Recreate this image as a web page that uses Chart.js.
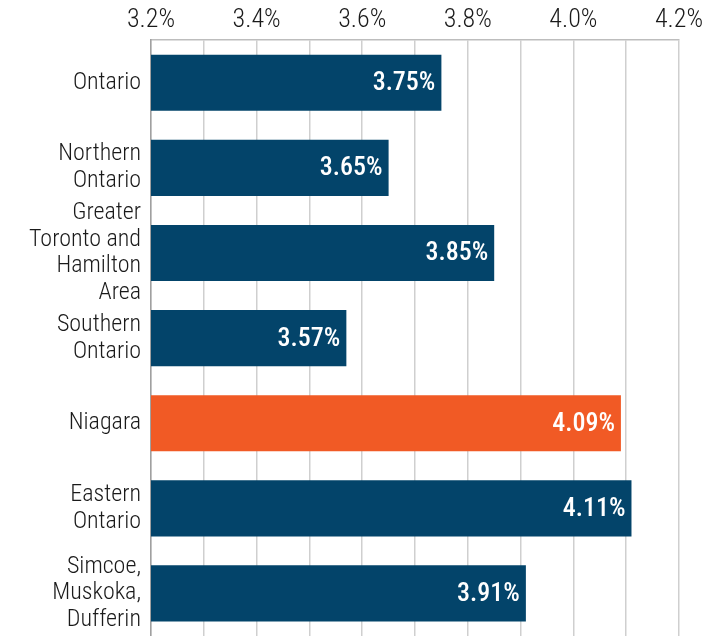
<!DOCTYPE html>
<html>
<head>
<meta charset="utf-8">
<script src="https://cdn.jsdelivr.net/npm/chart.js@4"></script>
<style>
html,body{margin:0;padding:0;background:#fff;}
#wrap{width:713px;height:636px;}
</style>
</head>
<body>
<div id="wrap"><canvas id="c" width="713" height="636"></canvas></div>
<script>
const categories = [
  ["Ontario"],
  ["Northern", "Ontario"],
  ["Greater", "Toronto and", "Hamilton", "Area"],
  ["Southern", "Ontario"],
  ["Niagara"],
  ["Eastern", "Ontario"],
  ["Simcoe,", "Muskoka,", "Dufferin"]
];
const values = [3.75, 3.65, 3.85, 3.57, 4.09, 4.11, 3.91];
const highlight = [false, false, false, false, true, false, false];
const axisMin = 3.2;
const axisMax = 4.2;

const NAVY = "#03446A";
const ORANGE = "#F15A25";
const FONT = "Roboto, 'Liberation Sans', sans-serif";

const valueLabels = {
  id: "valueLabels",
  afterDatasetsDraw(chart) {
    const ctx = chart.ctx;
    const meta = chart.getDatasetMeta(0);
    ctx.save();
    ctx.font = "500 condensed 26px " + FONT;
    ctx.fillStyle = "#ffffff";
    ctx.textAlign = "right";
    ctx.textBaseline = "middle";
    meta.data.forEach((bar, i) => {
      ctx.fillText(values[i].toFixed(2) + "%", bar.x - 6, bar.y + 1);
    });
    ctx.restore();
  }
};

new Chart(document.getElementById("c"), {
  type: "bar",
  data: {
    labels: categories,
    datasets: [{
      data: values,
      backgroundColor: highlight.map(h => h ? ORANGE : NAVY),
      borderWidth: 0,
      barPercentage: 0.66,
      categoryPercentage: 1.0
    }]
  },
  options: {
    indexAxis: "y",
    responsive: false,
    animation: false,
    layout: { padding: { top: 1, right: 34, bottom: 0, left: 0 } },
    plugins: {
      legend: { display: false },
      tooltip: { enabled: false }
    },
    scales: {
      x: {
        position: "top",
        min: axisMin,
        max: axisMax,
        afterFit: (scale) => { scale.paddingLeft = 0; },
        ticks: {
          stepSize: 0.1,
          padding: 4,
          autoSkip: false,
          maxRotation: 0,
          minRotation: 0,
          color: "#1a1a1a",
          font: { family: FONT, size: 26, weight: "300 condensed", lineHeight: 1.2 },
          callback: (v) => (Math.round(v * 10) % 2 === 0 ? v.toFixed(1) + "%" : "")
        },
        grid: { color: "#cfcfcf", lineWidth: 1.5, drawTicks: false },
        border: { color: "#bdbdbd", width: 1.5 }
      },
      y: {
        afterFit: (scale) => {
          scale.width = 151;
          scale.paddingTop = 0;
          scale.paddingBottom = 0;
        },
        ticks: {
          padding: 10,
          autoSkip: false,
          color: "#1a1a1a",
          font: { family: FONT, size: 24, weight: "300 condensed", lineHeight: 1.12 }
        },
        grid: { display: false, drawTicks: false },
        border: { color: "#a0a0a0", width: 1.5 }
      }
    }
  },
  plugins: [valueLabels]
});
</script>
</body>
</html>
